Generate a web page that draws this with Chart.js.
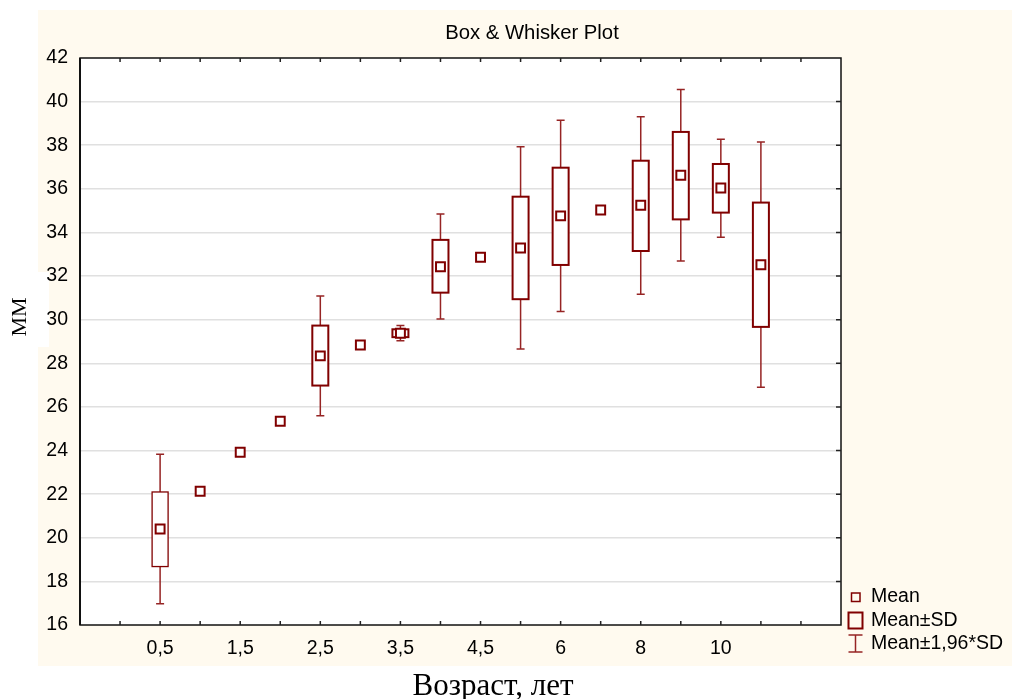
<!DOCTYPE html>
<html>
<head>
<meta charset="utf-8">
<script src="https://cdn.jsdelivr.net/npm/chart.js@4.4.1/dist/chart.umd.min.js"></script>
<style>
  html, body { margin: 0; padding: 0; background: #fff; }
  #wrap { width: 1012px; height: 699px; }
</style>
</head>
<body>
<div id="wrap"><canvas id="boxChart" width="1012" height="699"></canvas></div>
<script>
// age groups, one per category slot on the x axis
const ages = ["0,5", "1", "1,5", "2", "2,5", "3", "3,5", "4", "4,5", "5", "6", "7", "8", "9", "10", "11"];
const means = [20.40, 22.13, 23.92, 25.34, 28.34, 28.84, 29.38, 32.43, 32.86, 33.29, 34.76, 35.03, 35.25, 36.62, 36.04, 32.52];
// Mean±SD (boxes)
const sdLow  = [18.68, null, null, null, 26.98, null, 29.20, 31.24, null, 30.94, 32.51, null, 33.15, 34.60, 34.91, 29.67];
const sdHigh = [22.10, null, null, null, 29.73, null, 29.56, 33.66, null, 35.64, 36.97, null, 37.29, 38.61, 37.14, 35.37];
// Mean±1,96*SD (whiskers)
const ciLow  = [16.97, null, null, null, 25.59, null, 29.03, 30.03, null, 28.66, 30.37, null, 31.17, 32.69, 33.78, 26.90];
const ciHigh = [23.83, null, null, null, 31.09, null, 29.73, 34.85, null, 37.93, 39.14, null, 39.31, 40.55, 38.27, 38.15];
// labelled x ticks (every second slot)
const tickLabels = ["0,5", "1,5", "2,5", "3,5", "4,5", "6", "8", "10"];

const RED = "#800000";
const WHISKER = "#962424";
const FONT = "Liberation Sans, Arial, sans-serif";
const SERIF = "Liberation Serif, Times New Roman, serif";

const boxPlot = {
  id: "boxPlot",
  beforeDraw(chart) {
    const { ctx, width, height, chartArea: a } = chart;
    ctx.save();
    ctx.fillStyle = "#fff";
    ctx.fillRect(0, 0, width, height);
    ctx.fillStyle = "#fffaef";
    ctx.fillRect(38, 10, width - 38, 656);
    ctx.fillStyle = "#fff";
    ctx.fillRect(38, 272, 11, 75);
    ctx.fillRect(a.left, a.top, a.right - a.left, a.bottom - a.top);
    ctx.restore();
  },
  beforeDatasetsDraw(chart) {
    const { ctx } = chart;
    const x = chart.scales.x, y = chart.scales.y;
    ctx.save();
    ages.forEach((age, i) => {
      if (sdLow[i] == null) return;
      const px = x.getPixelForValue(i);
      // whisker
      const yTop = y.getPixelForValue(ciHigh[i]);
      const yBot = y.getPixelForValue(ciLow[i]);
      ctx.strokeStyle = WHISKER;
      ctx.lineWidth = 1.5;
      ctx.beginPath();
      ctx.moveTo(px, yTop); ctx.lineTo(px, yBot);
      ctx.moveTo(px - 4, yTop); ctx.lineTo(px + 4, yTop);
      ctx.moveTo(px - 4, yBot); ctx.lineTo(px + 4, yBot);
      ctx.stroke();
      // box
      const bTop = y.getPixelForValue(sdHigh[i]);
      const bBot = y.getPixelForValue(sdLow[i]);
      ctx.fillStyle = "#fff";
      ctx.fillRect(px - 8, bTop, 16, bBot - bTop);
      ctx.strokeStyle = RED;
      ctx.lineWidth = i === 0 ? 1.3 : 2;
      ctx.strokeRect(px - 8, bTop, 16, bBot - bTop);
    });
    ctx.restore();
  },
  afterDraw(chart) {
    const { ctx, chartArea: a } = chart;
    const x = chart.scales.x, y = chart.scales.y;
    ctx.save();
    // frame
    ctx.strokeStyle = "#111";
    ctx.lineWidth = 1.5;
    ctx.strokeRect(a.left, a.top, a.right - a.left, a.bottom - a.top);
    ctx.lineWidth = 2;
    ctx.beginPath();
    ctx.moveTo(a.left, a.top); ctx.lineTo(a.left, a.bottom);
    ctx.stroke();
    // inward tick marks
    ctx.lineWidth = 1.5;
    ctx.strokeStyle = "#222";
    ctx.beginPath();
    x.ticks.forEach(t => {
      if (t.value <= x.min || t.value >= x.max) return;
      const px = x.getPixelForValue(t.value);
      ctx.moveTo(px, a.top); ctx.lineTo(px, a.top + 4);
      ctx.moveTo(px, a.bottom); ctx.lineTo(px, a.bottom - 4);
    });
    y.ticks.forEach(t => {
      if (t.value <= y.min || t.value >= y.max) return;
      const py = y.getPixelForValue(t.value);
      ctx.moveTo(a.right, py); ctx.lineTo(a.right - 5, py);
    });
    ctx.stroke();

    // titles
    ctx.fillStyle = "#000";
    ctx.textAlign = "center";
    ctx.textBaseline = "middle";
    ctx.font = "20.3px " + FONT;
    ctx.fillText("Box & Whisker Plot", 532, 33);
    ctx.font = "31px " + SERIF;
    ctx.textBaseline = "alphabetic";
    ctx.fillText("Возраст, лет", 493, 695);
    ctx.save();
    ctx.translate(26, 317);
    ctx.rotate(-Math.PI / 2);
    ctx.font = "22px " + SERIF;
    ctx.fillText("ММ", 0, 0);
    ctx.restore();

    // legend
    ctx.textAlign = "left";
    ctx.textBaseline = "middle";
    ctx.font = "19.5px " + FONT;
    ctx.fillText("Mean", 871, 597);
    ctx.fillText("Mean±SD", 871, 621);
    ctx.fillText("Mean±1,96*SD", 871, 644);
    ctx.strokeStyle = RED;
    ctx.lineWidth = 1.5;
    ctx.strokeRect(851.5, 593, 8.5, 8.5);
    ctx.lineWidth = 2;
    ctx.strokeRect(848.5, 612.5, 14, 16);
    ctx.strokeStyle = WHISKER;
    ctx.lineWidth = 1.5;
    ctx.beginPath();
    ctx.moveTo(855.5, 635); ctx.lineTo(855.5, 652);
    ctx.moveTo(848.5, 635); ctx.lineTo(862.5, 635);
    ctx.moveTo(848.5, 652); ctx.lineTo(862.5, 652);
    ctx.stroke();
    ctx.restore();
  }
};

new Chart(document.getElementById("boxChart"), {
  type: "scatter",
  data: {
    datasets: [
      {
        label: "Mean",
        data: means.map((m, i) => ({ x: i, y: m })),
        pointStyle: "rect",
        pointRadius: 6.3,
        pointHoverRadius: 6.3,
        pointBorderWidth: 2,
        borderColor: RED,
        backgroundColor: "#fff"
      }
    ]
  },
  options: {
    responsive: false,
    animation: false,
    layout: { padding: { left: 0, top: 58, right: 171, bottom: 0 } },
    plugins: {
      legend: { display: false },
      tooltip: { enabled: false },
      title: { display: false }
    },
    scales: {
      x: {
        type: "linear",
        min: -2,
        max: 17,
        afterFit: s => { s.height = 74; },
        border: { display: false },
        grid: { display: false, drawTicks: false },
        ticks: {
          stepSize: 1,
          autoSkip: false,
          maxRotation: 0,
          padding: 12,
          color: "#000",
          font: { family: FONT, size: 19.5 },
          callback: v => (v >= 0 && v <= 14 && v % 2 === 0) ? tickLabels[v / 2] : ""
        }
      },
      y: {
        min: 16,
        max: 42,
        afterFit: s => { s.width = 80; },
        border: { display: false },
        grid: {
          drawTicks: false,
          lineWidth: 1.5,
          color: c => (c.tick.value === 16 || c.tick.value === 42) ? "rgba(0,0,0,0)" : "#e0e0e0"
        },
        ticks: {
          stepSize: 2,
          padding: 12,
          color: "#000",
          font: { family: FONT, size: 19.5 }
        }
      }
    }
  },
  plugins: [boxPlot]
});
</script>
</body>
</html>
